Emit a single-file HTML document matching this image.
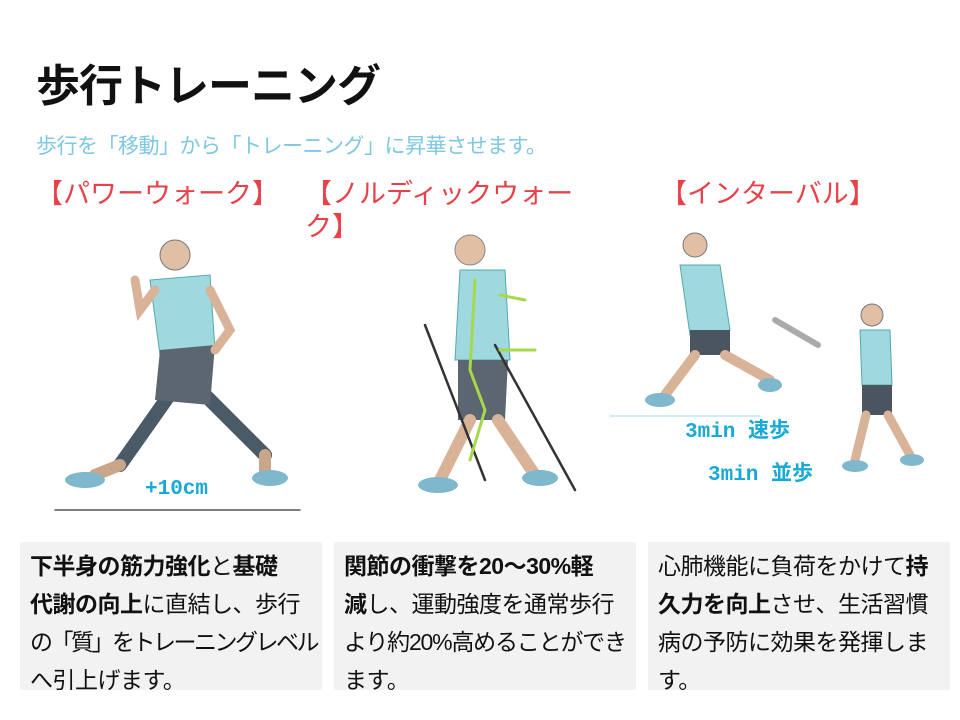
<!DOCTYPE html>
<html><head><meta charset="utf-8"><style>
body{margin:0;width:960px;height:720px;background:#fff;font-family:"Liberation Sans","Noto Sans CJK JP",sans-serif;position:relative;overflow:hidden}
.a{position:absolute;white-space:nowrap}
h1{position:absolute;left:36px;top:50px;margin:0;font-size:44px;font-weight:bold;color:#111;letter-spacing:-1px}
.sub{left:36px;top:130px;font-size:21px;color:#7ec8e0;letter-spacing:-0.5px}
.hd{font-size:27px;color:#e8414a;line-height:33px}
.box{position:absolute;top:542px;height:148px;background:#f2f2f2;font-size:23px;line-height:38px;padding:5px 10px;box-sizing:border-box;color:#111;white-space:nowrap;overflow:hidden;letter-spacing:-0.5px}
.box b{font-weight:bold}
.lab{font-family:"Liberation Mono","Noto Sans CJK JP",monospace;font-weight:bold;color:#1aa9d6;font-size:21px}
</style></head><body>
<h1>歩行トレーニング</h1>
<div class="a sub">歩行を「移動」から「トレーニング」に昇華させます。</div>
<div class="a hd" style="left:36px;top:178px">【パワーウォーク】</div>
<div class="a hd" style="left:305px;top:178px">【ノルディックウォー<br>ク】</div>
<div class="a hd" style="left:660px;top:178px">【インターバル】</div>

<svg class="a" style="left:0;top:220px" width="960" height="310" stroke-linecap="round" fill="none">
<g stroke-width="14" stroke="#4a5a66">
<line x1="180" y1="160" x2="120" y2="245"/><line x1="195" y1="165" x2="265" y2="235"/></g>
<g stroke-width="12" stroke="#c9a58a"><line x1="120" y1="245" x2="95" y2="255"/><line x1="265" y1="235" x2="265" y2="255"/></g>
<path d="M150 60 L210 55 L215 130 L160 135Z" fill="#9fd8df" stroke="#5aa"/>
<path d="M160 130 L215 125 L210 185 L155 180Z" fill="#5b6670"/>
<circle cx="175" cy="35" r="15" fill="#e0bfa5" stroke="#777"/>
<g stroke-width="9" stroke="#d9b398"><path d="M155 70 L140 90 L135 60"/><path d="M210 70 L230 110 L215 130"/></g>
<ellipse cx="85" cy="260" rx="20" ry="8" fill="#7fb8cc"/><ellipse cx="270" cy="258" rx="18" ry="8" fill="#7fb8cc"/>
<line x1="55" y1="290" x2="300" y2="290" stroke="#555" stroke-width="1.5"/>
<path d="M460 50 L505 50 L510 140 L455 140Z" fill="#9fd8df" stroke="#5aa"/>
<path d="M458 140 L508 140 L505 200 L458 200Z" fill="#5b6670"/>
<circle cx="470" cy="30" r="15" fill="#e0bfa5" stroke="#888"/>
<g stroke-width="12" stroke="#d9b398"><line x1="470" y1="200" x2="440" y2="260"/><line x1="498" y1="200" x2="535" y2="255"/></g>
<g stroke="#333" stroke-width="2.5"><line x1="425" y1="105" x2="485" y2="260"/><line x1="495" y1="125" x2="575" y2="270"/></g>
<g stroke="#a5d84a" stroke-width="3"><path d="M475 60 L470 150 L485 190 L470 240"/><path d="M500 75 L525 80 M500 130 L535 130"/></g>
<ellipse cx="438" cy="265" rx="20" ry="8" fill="#7fb8cc"/><ellipse cx="540" cy="258" rx="18" ry="8" fill="#7fb8cc"/>
<path d="M680 45 L720 45 L730 110 L690 115Z" fill="#9fd8df" stroke="#5aa"/>
<path d="M690 110 L730 110 L730 135 L690 135Z" fill="#4a5560"/>
<circle cx="695" cy="25" r="12" fill="#e0bfa5" stroke="#777"/>
<g stroke-width="10" stroke="#d9b398"><line x1="695" y1="135" x2="665" y2="175"/><line x1="725" y1="135" x2="770" y2="160"/></g>
<ellipse cx="660" cy="180" rx="15" ry="7" fill="#7fb8cc"/><ellipse cx="770" cy="165" rx="12" ry="7" fill="#7fb8cc"/>
<line x1="610" y1="196" x2="760" y2="196" stroke="#bfe6ee" stroke-width="1.5"/>
<path d="M775 100 L818 125" stroke="#aaa" stroke-width="6"/>
<path d="M860 110 L890 110 L892 165 L862 165Z" fill="#9fd8df" stroke="#5aa"/>
<path d="M862 165 L892 165 L892 195 L862 195Z" fill="#4a5560"/>
<circle cx="872" cy="95" r="11" fill="#e0bfa5" stroke="#777"/>
<g stroke-width="9" stroke="#d9b398"><line x1="866" y1="195" x2="855" y2="240"/><line x1="888" y1="195" x2="910" y2="235"/></g>
<ellipse cx="855" cy="246" rx="13" ry="6" fill="#7fb8cc"/><ellipse cx="912" cy="240" rx="12" ry="6" fill="#7fb8cc"/>
</svg>
<div class="a lab" style="left:145px;top:478px">+10cm</div>
<div class="a lab" style="left:685px;top:414px">3min 速歩</div>
<div class="a lab" style="left:708px;top:457px">3min 並歩</div>

<div class="box" style="left:20px;width:302px"><b>下半身の筋力強化</b>と<b>基礎<br>代謝の向上</b>に直結し、歩行<br><span style="letter-spacing:-2.5px">の「質」をトレーニングレベル</span><br>へ引上げます。</div>
<div class="box" style="left:334px;width:302px"><b>関節の衝撃を20～30%軽<br>減</b>し、運動強度を通常歩行<br><span style="letter-spacing:-1.2px">より約20%高めることができ</span><br>ます。</div>
<div class="box" style="left:648px;width:302px">心肺機能に負荷をかけて<b>持<br>久力を向上</b>させ、生活習慣<br>病の予防に効果を発揮しま<br>す。</div>
</body></html>
